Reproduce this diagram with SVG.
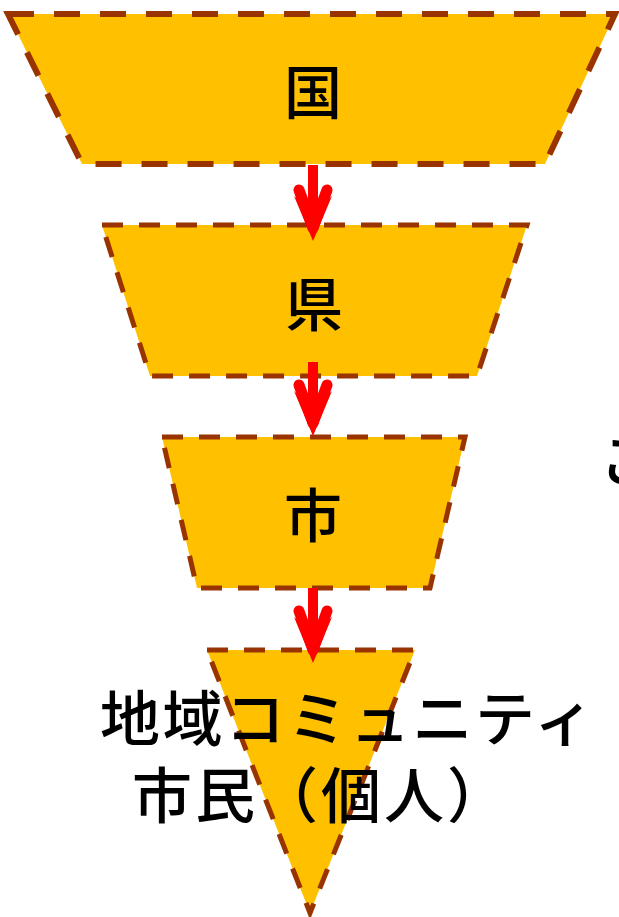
<svg xmlns="http://www.w3.org/2000/svg" width="619" height="917" viewBox="0 0 619 917">
<style>
.shape{fill:#FFC000;stroke:#993300;stroke-width:5;stroke-dasharray:21 16;stroke-linejoin:miter}
.big{stroke-width:6;stroke-dasharray:26 20}
.lbl{font-family:"Noto Sans CJK JP","Noto Sans CJK SC",sans-serif;font-weight:500;fill:#000}
.shaft{stroke:#FF0000;stroke-width:10;fill:none}
.wing{stroke:#FF0000;stroke-width:11;stroke-linecap:round;fill:none}
.head{fill:#FF0000}
</style>
<rect width="619" height="917" fill="#FFFFFF"/>
<g id="node-kuni">
<polygon class="shape big" points="8,14 615,14 545,164 82,164"/>
<text class="lbl" x="313" y="114" font-size="58" text-anchor="middle">国</text>
</g>
<g id="node-ken">
<polygon class="shape" points="102,225 527,225 477,376 150,376"/>
<text class="lbl" x="314" y="326" font-size="58" text-anchor="middle">県</text>
</g>
<g id="node-shi">
<polygon class="shape" points="162,437 465,437 430,588 197,588"/>
<text class="lbl" x="313" y="537" font-size="58" text-anchor="middle">市</text>
</g>
<g id="node-shimin">
<polygon class="shape" points="207,650 415,650 310,913"/>
<text class="lbl" x="100" y="741" font-size="60" letter-spacing="2.5">地域コミュニティ</text>
<text class="lbl" x="132" y="818" font-size="60" letter-spacing="3">市民（個人）</text>
</g>
<g id="offcanvas-text">
<text class="lbl" x="599" y="483" font-size="60">こ</text>
</g>
<g id="connectors">
<g id="arrow1">
<line class="shaft" x1="313" y1="165" x2="313" y2="228"/>
<line class="wing" x1="299" y1="190" x2="313" y2="228"/>
<line class="wing" x1="327" y1="190" x2="313" y2="228"/>
<polygon class="head" points="294,196 313,241 332,196 313,214"/>
</g>
<g id="arrow2">
<line class="shaft" x1="313" y1="362" x2="313" y2="423"/>
<line class="wing" x1="299" y1="385" x2="313" y2="423"/>
<line class="wing" x1="327" y1="385" x2="313" y2="423"/>
<polygon class="head" points="294,391 313,436 332,391 313,409"/>
</g>
<g id="arrow3">
<line class="shaft" x1="313" y1="588" x2="313" y2="650"/>
<line class="wing" x1="299" y1="611" x2="313" y2="650"/>
<line class="wing" x1="327" y1="611" x2="313" y2="650"/>
<polygon class="head" points="294,617 313,663 332,617 313,635"/>
</g>
</g>
</svg>
